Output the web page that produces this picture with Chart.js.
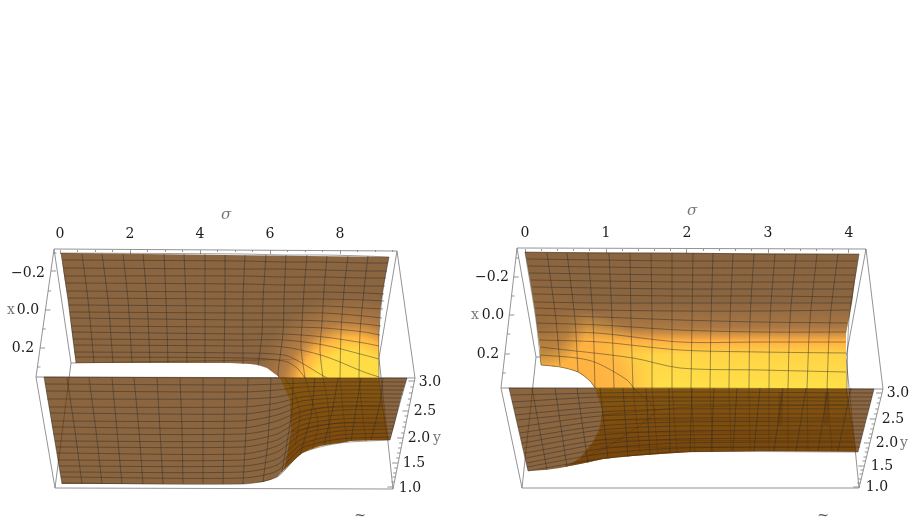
<!DOCTYPE html>
<html>
<head>
<meta charset="utf-8">
<title>Surfaces</title>
<style>
  html, body { margin: 0; padding: 0; background: #fff; }
  canvas { display: block; }
</style>
<script src="https://cdn.jsdelivr.net/npm/chart.js@4/dist/chart.umd.min.js"></script>
</head>
<body>
<canvas id="surfaces" width="916" height="522"></canvas>
<script>
// tick values for the sigma axes
var sigmaMajorLeft = [0, 2, 4, 6, 8];
var sigmaMinorLeft = [0, 0.5, 1, 1.5, 2, 2.5, 3, 3.5, 4, 4.5, 5, 5.5, 6, 6.5, 7, 7.5, 8, 8.5, 9, 9.5];
var sigmaMajorRight = [0, 1, 2, 3, 4];
var sigmaMinorRight = [0, 0.2, 0.4, 0.6, 0.8, 1, 1.2, 1.4, 1.6, 1.8, 2, 2.2, 2.4, 2.6, 2.8, 3, 3.2, 3.4, 3.6, 3.8, 4, 4.2];

// axis text, placed in view coordinates of the projected box
var axisTextLeft = [
  ['\u22120.2', 28, 273], ['x', 11, 310], ['0.0', 28, 310], ['0.2', 23, 348],
  ['3.0', 430, 382], ['2.5', 425, 411], ['2.0', 419, 438], ['y', 437, 438], ['1.5', 414, 463], ['1.0', 410, 488]
];
var axisTextRight = [
  ['\u22120.2', 492, 277], ['x', 475, 315], ['0.0', 493, 315], ['0.2', 488, 354],
  ['3.0', 898, 393], ['2.5', 893, 419], ['2.0', 887, 443], ['y', 904, 443], ['1.5', 882, 466], ['1.0', 877, 487]
];
var greyText = ['x', 'y'];

// projected box edges, [x0, y0, x1, y1]
var boxLeft = [
  [54, 249, 397, 251], [54, 249, 36, 377], [54, 249, 71, 363], [36, 377, 415, 378], [36, 377, 55, 488],
  [71, 363, 55, 488], [55, 488, 393, 489], [397, 251, 415, 378], [397, 251, 379, 358], [379, 358, 393, 489],
  [415, 378, 393, 489], [71, 363, 379, 358]
];
var boxRight = [
  [517, 248, 866, 249], [517, 248, 501, 388], [517, 248, 536, 357], [501, 388, 883, 389], [501, 388, 522, 488],
  [536, 357, 522, 488], [522, 488, 859, 488], [866, 249, 883, 389], [866, 249, 846, 357], [846, 357, 859, 488],
  [883, 389, 859, 488], [536, 357, 846, 357]
];

// tick rows along the slanted x and y edges of each box
var xMajorLeft = [271, 310, 348], xMinorLeft = [253, 291, 329, 367];
var yMajorLeft = [381, 411, 438, 463, 487];
var yMinorLeft = [387, 393, 399, 405, 416, 422, 427, 433, 443, 448, 453, 458, 468, 473, 477, 482];
var xMajorRight = [277, 315, 354], xMinorRight = [258, 296, 334, 373];
var yMajorRight = [393, 419, 443, 466, 487];
var yMinorRight = [398, 403, 409, 414, 424, 429, 434, 438, 448, 452, 457, 461, 470, 474, 479, 483];

// left panel, rear sheet
var leftBackOutline = [61,253, 389,257, 386,273, 383,290, 380,312, 379,333, 379,378, 280,378, 279,377, 275,374, 271,371, 267,368, 258,365, 250,364, 230,363, 76,363, 72,333, 68,300, 64,275];
var leftBackUnder = [280,378, 379,378, 389,440, 350,441, 320,446, 302,453, 287,467, 284,470, 287,455, 291,430, 290,400];
var leftBackRows = [
  [61,253, 243,254, 284,255, 324,255, 364,256, 389,257],
  [63,260, 243,261, 284,262, 324,262, 364,263, 388,263],
  [64,268, 243,269, 284,269, 324,270, 364,271, 387,271],
  [65,276, 243,276, 284,277, 324,277, 364,278, 386,278],
  [66,283, 243,284, 284,285, 324,285, 364,286, 385,286],
  [67,291, 243,292, 284,292, 324,292, 364,293, 384,294],
  [68,298, 243,299, 284,299, 324,299, 364,300, 384,301],
  [69,305, 243,306, 284,306, 324,306, 364,308, 383,309],
  [70,312, 243,313, 284,313, 324,313, 364,316, 382,318],
  [71,318, 243,320, 284,320, 324,321, 364,324, 381,326],
  [71,326, 243,327, 284,327, 324,328, 364,332, 380,335],
  [72,332, 243,334, 284,334, 324,337, 364,343, 379,346],
  [73,339, 243,340, 284,340, 324,345, 364,355, 379,359],
  [74,345, 243,346, 284,347, 324,356, 364,372, 379,377],
  [74,352, 243,353, 284,355, 300,362, 320,374, 327,378],
  [75,357, 243,358, 284,361, 297,368, 305,378]
];
var leftBackColumns = [
  [61,253, 68,300, 76,363], [82,254, 88,300, 94,363], [102,254, 108,300, 113,363], [123,254, 128,300, 132,363],
  [143,254, 147,300, 150,363], [164,254, 166,300, 168,363], [184,254, 186,300, 187,363], [205,254, 205,300, 205,363],
  [225,255, 225,300, 224,363], [245,255, 243,300, 243,364], [266,255, 263,300, 262,333, 258,366],
  [286,255, 284,300, 283,333, 278,373, 279,378], [307,255, 304,290, 302,323, 301,347, 305,378],
  [327,256, 324,290, 322,323, 320,350, 323,378], [348,256, 344,290, 341,333, 340,378],
  [368,256, 364,290, 360,333, 359,378], [389,257, 383,290, 379,333, 379,378]
];
var leftUnderLines = [
  [290,418, 300,413, 323,408, 383,406], [285,378, 295,395, 300,415, 295,445],
  [305,378, 312,400, 318,425, 312,449], [323,378, 328,405, 330,445], [340,378, 343,410, 347,442],
  [359,378, 362,410, 366,441], [379,378, 383,410, 388,440], [291,432, 320,425, 350,423, 385,424]
];

// left panel, front sheet
var leftFrontOutline = [44,377, 407,378, 402,394, 398,410, 394,426, 390,440, 370,440, 350,441, 340,443, 330,444, 320,446, 310,449, 302,453, 295,459, 287,467, 282,472, 277,477, 270,480, 263,482, 243,484, 62,484];
var leftFrontRows = [
  [44,377, 243,378, 277,378, 302,378, 340,378, 407,378],
  [45,384, 243,385, 277,384, 302,383, 340,382, 406,382],
  [46,391, 243,392, 277,390, 302,387, 340,386, 405,386],
  [47,399, 243,399, 277,397, 302,392, 340,390, 404,390],
  [49,407, 243,407, 277,403, 302,397, 340,394, 403,394],
  [50,413, 243,414, 277,409, 302,401, 340,398, 401,398],
  [51,421, 243,421, 277,415, 302,406, 340,402, 400,402],
  [52,427, 243,428, 277,421, 302,411, 340,406, 399,406],
  [53,434, 243,434, 277,428, 302,416, 340,410, 398,410],
  [55,441, 243,441, 277,434, 302,420, 340,415, 397,414],
  [56,447, 243,447, 277,440, 302,425, 340,419, 396,418],
  [57,453, 243,454, 277,446, 302,430, 340,423, 395,422],
  [58,460, 243,460, 277,452, 302,434, 340,427, 394,426],
  [59,466, 243,466, 277,459, 302,439, 340,431, 393,429],
  [60,472, 243,472, 277,465, 302,444, 340,435, 392,433],
  [61,477, 243,478, 277,471, 302,448, 340,439, 391,437],
  [62,483, 243,484, 277,477, 302,453, 340,443, 390,440]
];
var leftFrontColumns = [
  [44,377, 53,430, 62,484], [67,378, 75,431, 82,484], [89,378, 96,431, 102,484], [112,378, 117,431, 122,484],
  [134,378, 139,431, 143,484], [157,378, 160,431, 163,484], [180,378, 182,431, 183,484], [203,378, 203,431, 203,484],
  [225,378, 224,431, 223,484], [248,378, 246,431, 243,484], [271,378, 268,440, 263,482], [293,378, 292,410, 282,472],
  [315,378, 311,415, 300,455], [338,378, 333,407, 324,445], [361,378, 357,403, 351,441], [383,378, 380,403, 371,440],
  [407,378, 398,410, 390,440]
];

// right panel, rear sheet
var rightBackOutline = [525,252, 859,254, 855,280, 852,303, 849,318, 846,333, 846,357, 847,388, 595,388, 590,381, 584,376, 578,372, 569,369, 560,367, 541,365, 540,347, 535,310, 530,280];
var rightBackUnder = [595,388, 847,388, 856,451, 760,451, 690,452, 633,456, 603,459, 580,464, 563,467, 572,463, 580,458, 593,442, 600,427, 602,410];
var rightBackRows = [
  [525,252, 600,253, 680,253, 760,254, 859,254],
  [527,259, 600,260, 680,261, 760,261, 857,261],
  [528,266, 600,267, 680,268, 760,268, 856,268],
  [529,273, 600,274, 680,275, 760,275, 855,275],
  [531,280, 600,281, 680,282, 760,282, 854,282],
  [532,287, 600,288, 680,289, 760,289, 853,289],
  [533,294, 600,295, 680,296, 760,296, 852,297],
  [534,302, 600,303, 680,303, 760,303, 851,303],
  [535,308, 600,310, 680,311, 760,311, 849,310],
  [536,315, 600,317, 680,320, 760,322, 847,323],
  [537,323, 600,325, 680,330, 760,332, 846,332],
  [538,332, 597,333, 680,342, 760,342, 846,342],
  [539,340, 600,342, 680,350, 760,352, 846,353],
  [540,347, 633,358, 680,368, 760,370, 846,372],
  [540,355, 577,358, 597,363, 627,380, 635,390],
  [541,365, 560,367, 578,372, 590,381, 595,388]
];
var rightBackColumns = [
  [525,252, 536,320, 541,365], [547,253, 556,320, 560,366], [567,253, 575,320, 578,372], [588,253, 593,320, 595,388],
  [609,253, 612,320, 614,388], [630,253, 631,320, 633,388], [651,253, 652,320, 652,388], [672,253, 672,320, 672,388],
  [693,253, 692,320, 691,388], [713,253, 711,320, 710,388], [733,254, 730,320, 729,388], [754,254, 750,320, 749,388],
  [775,254, 770,320, 769,388], [796,254, 790,320, 788,388], [817,254, 810,320, 807,388], [838,254, 830,320, 827,388],
  [859,254, 849,320, 847,388]
];
var rightUnderLines = [
  [602,415, 655,410, 690,407, 846,405], [633,388, 655,410, 640,425, 610,445, 590,455],
  [633,388, 640,452], [652,388, 658,454], [672,388, 677,453], [691,388, 695,452], [710,388, 713,452],
  [729,388, 731,451], [749,388, 750,451], [769,388, 769,451], [788,388, 788,451], [807,388, 808,451],
  [827,388, 832,451], [846,388, 856,451],
  [602,398, 847,398], [602,420, 850,420], [600,432, 852,432], [596,440, 853,441], [600,447, 855,447]
];
var rightUnderStreaks = [[781,392, 780,425], [827,392, 826,425]];

// right panel, front sheet
var rightFrontOutline = [509,388, 874,389, 870,405, 866,420, 862,436, 858,452, 760,451, 690,452, 660,454, 633,456, 618,457, 603,459, 590,462, 580,464, 570,466, 560,468, 545,470, 528,471];
var rightFrontRows = [
  [509,388, 600,388, 680,388, 874,389],
  [511,395, 600,393, 680,392, 873,393],
  [512,402, 600,397, 680,397, 872,397],
  [514,408, 600,402, 680,401, 871,401],
  [515,415, 600,407, 680,405, 870,405],
  [517,420, 600,412, 680,409, 869,409],
  [518,427, 600,416, 680,414, 868,414],
  [520,433, 600,421, 680,418, 867,418],
  [521,438, 600,426, 680,422, 866,422],
  [522,443, 600,430, 680,426, 865,426],
  [524,448, 600,435, 680,431, 864,430],
  [525,453, 600,440, 680,435, 863,434],
  [526,458, 600,444, 680,439, 862,438],
  [527,463, 600,449, 680,443, 861,442],
  [527,467, 600,454, 680,448, 860,447],
  [528,471, 600,459, 680,452, 858,452]
];
var rightFrontColumns = [
  [509,388, 528,471], [532,388, 547,470], [555,388, 567,467], [577,388, 588,463], [600,388, 608,459], [623,388, 628,457],
  [646,388, 650,455], [669,388, 670,453], [692,388, 690,452], [714,388, 711,452], [737,388, 733,451], [760,388, 754,451],
  [783,388, 774,451], [806,388, 796,451], [828,388, 818,451], [851,388, 838,451], [874,389, 858,452]
];

// tildes of the captions that follow each panel
var captionMarks = [['~', 360, 516], ['~', 823, 516]];

var SHEET = 'rgba(101,53,4,0.76)';
var MESH = 'rgba(40,40,40,0.5)';
var BOX = 'rgba(135,135,135,0.9)';
var FONT = '"DejaVu Serif"';

var canvas = document.getElementById('surfaces');
var ctx = canvas.getContext('2d');

function pts(flat) {
  var out = [];
  for (var i = 0; i < flat.length; i += 2) out.push({ x: flat[i], y: flat[i + 1] });
  return out;
}

function gradient(x0, y0, x1, y1, stops) {
  var g = ctx.createLinearGradient(x0, y0, x1, y1);
  stops.forEach(function (s) { g.addColorStop(s[0], s[1]); });
  return g;
}

function radial(cx, cy, r, stops) {
  var g = ctx.createRadialGradient(cx, cy, 0, cx, cy, r);
  stops.forEach(function (s) { g.addColorStop(s[0], s[1]); });
  return g;
}

// hot area at the right of the left rear sheet
var leftGlow = radial(352, 392, 100, [
  [0, '#ffe046'], [0.4, '#ffdb45'], [0.55, '#ffb542'], [0.7, 'rgba(225,150,70,0.5)'], [1, 'rgba(190,130,70,0)']
]);

var rightGlow = gradient(0, 300, 0, 388, [
  [0, 'rgba(190,130,70,0)'], [0.3, 'rgba(195,135,70,0.55)'], [0.46, '#ffae42'], [0.62, '#ffd446'], [1, '#ffe048']
]);
// the band runs orange and sits lower towards the cut-out corner
var rightOrange = radial(575, 395, 85, [
  [0, 'rgba(255,170,65,0.95)'], [0.6, 'rgba(255,175,65,0.8)'], [1, 'rgba(255,190,65,0)']
]);
var rightDim = radial(540, 322, 48, [
  [0, 'rgba(150,105,60,0.9)'], [0.6, 'rgba(150,105,60,0.65)'], [1, 'rgba(150,105,60,0)']
]);
var leftUnderFill = gradient(0, 378, 0, 470, [[0, 'rgb(240,195,55)'], [1, 'rgb(190,125,35)']]);
var rightUnderFill = gradient(0, 388, 0, 460, [[0, 'rgb(235,190,55)'], [1, 'rgb(185,125,35)']]);

// paint order, rear to front; reversed below because Chart.js draws the last dataset first
var layers = [];

function polygon(flat, color) {
  layers.push({ data: pts(flat), showLine: true, fill: 'shape', backgroundColor: color, borderWidth: 0, pointRadius: 0 });
}
function lines(list, color, width, tension) {
  list.forEach(function (flat) {
    layers.push({ data: pts(flat), showLine: true, fill: false, borderColor: color, borderWidth: width, pointRadius: 0, tension: tension });
  });
}
function slantTicks(rows, edge, length, side) {
  rows.forEach(function (y) {
    var x = edge[0] + (edge[2] - edge[0]) * (y - edge[1]) / (edge[3] - edge[1]);
    lines([[x, y, x + side * length, y]], BOX, 1, 0);
  });
}

// box and its ticks go behind the translucent sheets
lines(boxLeft, BOX, 1, 0);
lines(boxRight, BOX, 1, 0);
slantTicks(xMajorLeft, boxLeft[1], 5, 1);
slantTicks(xMinorLeft, boxLeft[1], 3, 1);
slantTicks(yMajorLeft, boxLeft[10], 6, -1);
slantTicks(yMinorLeft, boxLeft[10], 3, -1);
slantTicks(xMajorRight, boxRight[1], 5, 1);
slantTicks(xMinorRight, boxRight[1], 3, 1);
slantTicks(yMajorRight, boxRight[10], 6, -1);
slantTicks(yMinorRight, boxRight[10], 3, -1);

// left panel
polygon(leftBackOutline, SHEET);
polygon(leftBackOutline, leftGlow);
polygon(leftBackUnder, leftUnderFill);
lines(leftBackRows, MESH, 0.9, 0.3);
lines(leftBackColumns, MESH, 0.9, 0.3);
lines(leftUnderLines, MESH, 0.9, 0.3);
polygon(leftFrontOutline, SHEET);
lines(leftFrontRows, MESH, 0.9, 0.25);
lines(leftFrontColumns, MESH, 0.9, 0.25);

// right panel
polygon(rightBackOutline, SHEET);
polygon(rightBackOutline, rightGlow);
polygon(rightBackOutline, rightOrange);
polygon(rightBackOutline, rightDim);
polygon(rightBackUnder, rightUnderFill);
lines(rightBackRows, MESH, 0.9, 0.3);
lines(rightBackColumns, MESH, 0.9, 0.3);
lines(rightUnderLines, MESH, 0.9, 0.3);
lines(rightUnderStreaks, 'rgba(70,45,20,0.3)', 5, 0);
polygon(rightFrontOutline, SHEET);
lines(rightFrontRows, MESH, 0.9, 0.25);
lines(rightFrontColumns, MESH, 0.9, 0.25);

// one sigma axis with labels and one with only the short ticks, per panel
function sigmaAxis(ticks, zero, unit, y, tickLength, labelled) {
  return {
    type: 'linear',
    axis: 'x',
    min: -zero / unit,
    max: (916 - zero) / unit,
    position: { y: y },
    afterBuildTicks: function (axis) {
      axis.ticks = ticks.map(function (v) { return { value: v }; });
    },
    border: { display: false },
    grid: { drawOnChartArea: false, drawTicks: true, tickLength: tickLength, tickColor: '#9a9a9a', tickWidth: 1 },
    ticks: {
      display: labelled,
      autoSkip: false,
      maxRotation: 0,
      padding: -28,
      color: '#1c1c1c',
      font: { family: FONT, size: 14 },
      callback: function (v) { return String(v); }
    }
  };
}

// axis numbers, axis names and the sigma titles
var axisTextPlugin = {
  id: 'axisText',
  afterDraw: function (chart) {
    var c = chart.ctx, sx = chart.scales.x, sy = chart.scales.y;
    c.save();
    c.textAlign = 'center';
    c.textBaseline = 'middle';
    axisTextLeft.concat(axisTextRight).forEach(function (t) {
      c.font = '14px ' + FONT;
      c.fillStyle = greyText.indexOf(t[0]) >= 0 ? '#777' : '#1c1c1c';
      c.fillText(t[0], sx.getPixelForValue(t[1]), sy.getPixelForValue(t[2]));
    });
    c.fillStyle = '#777';
    c.font = 'italic 15px ' + FONT;
    c.fillText('\u03c3', sx.getPixelForValue(226), sy.getPixelForValue(215));
    c.fillText('\u03c3', sx.getPixelForValue(692), sy.getPixelForValue(211));
    c.fillStyle = '#555';
    c.font = '14px ' + FONT;
    captionMarks.forEach(function (t) {
      c.fillText(t[0], sx.getPixelForValue(t[1]), sy.getPixelForValue(t[2]));
    });
    c.restore();
  }
};

var myChart = new Chart(ctx, {
  type: 'scatter',
  data: { datasets: layers.reverse() },
  plugins: [axisTextPlugin],
  options: {
    responsive: false,
    animation: false,
    events: [],
    layout: { padding: 0 },
    plugins: { legend: { display: false }, tooltip: { enabled: false } },
    scales: {
      x: { type: 'linear', display: false, min: 0, max: 916 },
      y: { type: 'linear', display: false, min: 0, max: 522, reverse: true },
      sigmaLeft: sigmaAxis(sigmaMajorLeft, 60, 35, 250, 4, true),
      sigmaLeftMinor: sigmaAxis(sigmaMinorLeft, 60, 35, 250, 2, false),
      sigmaRight: sigmaAxis(sigmaMajorRight, 525, 81, 249, 4, true),
      sigmaRightMinor: sigmaAxis(sigmaMinorRight, 525, 81, 249, 2, false)
    }
  }
});
</script>
</body>
</html>
